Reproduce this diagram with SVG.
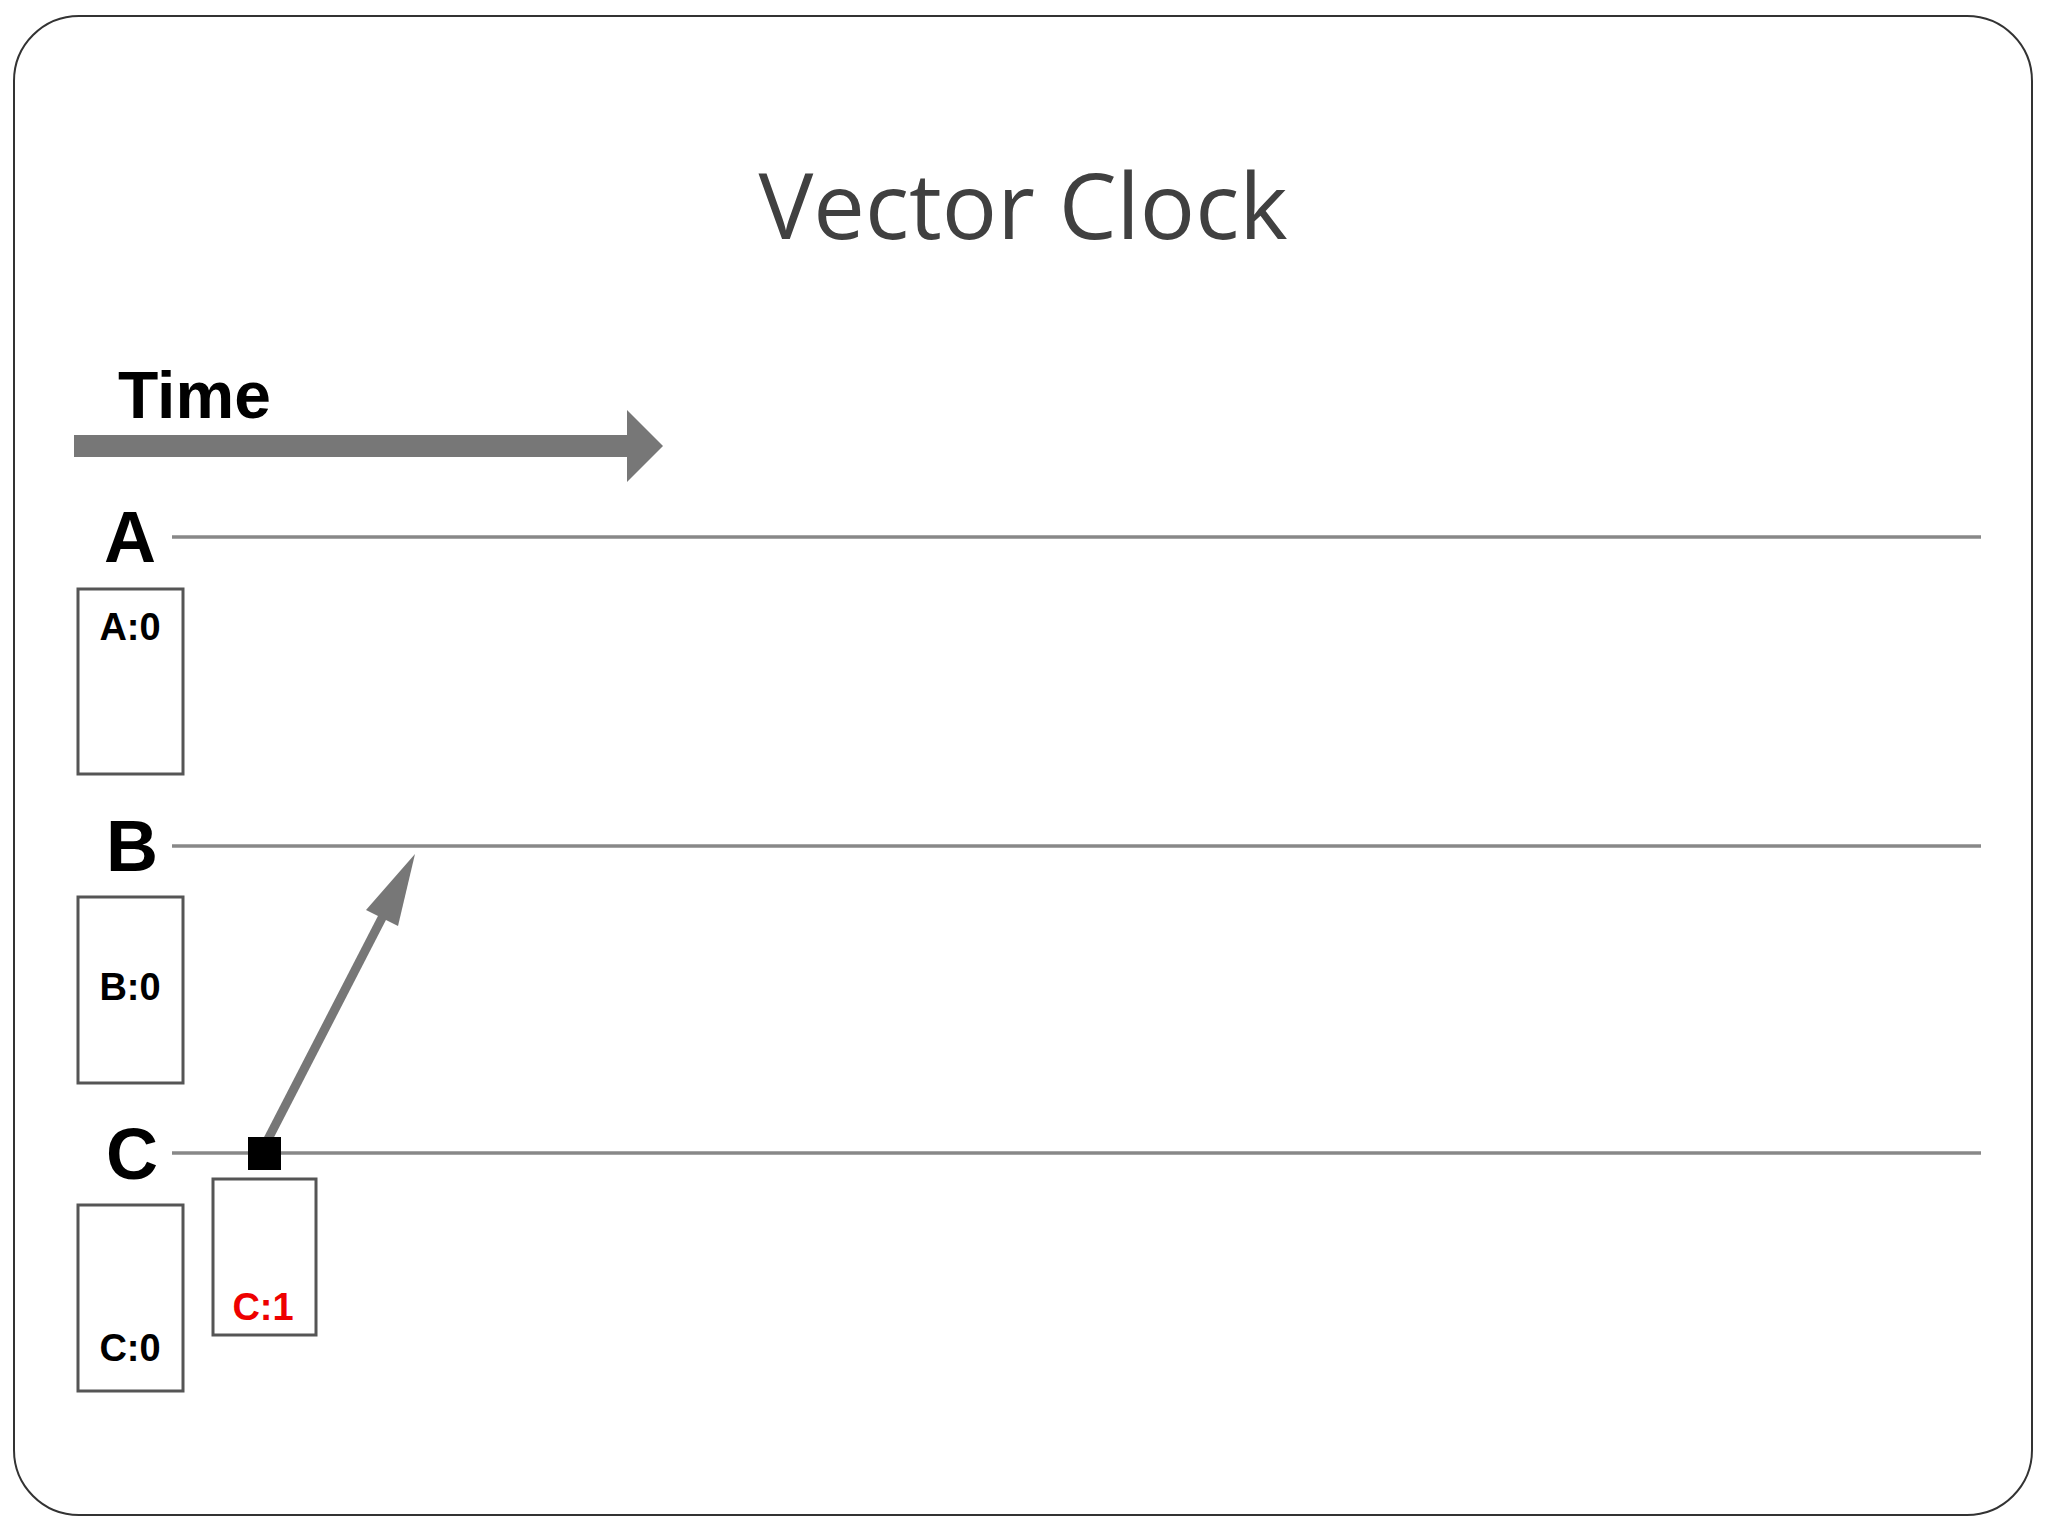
<svg xmlns="http://www.w3.org/2000/svg" width="2048" height="1536" viewBox="0 0 2048 1536">
<style>
.lbl{font-family:"Liberation Sans",Arial,sans-serif;font-weight:bold;fill:#000}
.box{fill:#fff;stroke:#555;stroke-width:3}
.line{stroke:#888;stroke-width:3.5}
</style>
<rect width="2048" height="1536" fill="#fff"/>
<rect x="14" y="16" width="2018" height="1499" rx="65" fill="#fff" stroke="#333" stroke-width="2"/>
<text x="1023" y="239" font-family="'Open Sans','Liberation Sans',sans-serif" font-size="92" fill="#404040" text-anchor="middle">Vector Clock</text>
<text x="118" y="418" class="lbl" font-size="66">Time</text>
<polygon points="74,435 627,435 627,410 663,446 627,482 627,457 74,457" fill="#777"/>
<g id="timelines">
<text x="104" y="562" class="lbl" font-size="72">A</text>
<text x="106" y="871" class="lbl" font-size="72">B</text>
<text x="106" y="1179" class="lbl" font-size="72">C</text>
</g>
<g id="connectors">
<line class="line" x1="172" y1="537" x2="1981" y2="537"/>
<line class="line" x1="172" y1="846" x2="1981" y2="846"/>
<line class="line" x1="172" y1="1153" x2="1981" y2="1153"/>
<line x1="265" y1="1145" x2="384" y2="914" stroke="#777" stroke-width="9"/>
<polygon points="415,854 398,926 366,910" fill="#777"/>
</g>
<g id="boxA"><rect class="box" x="78" y="589" width="105" height="185"/><text x="130" y="640" class="lbl" font-size="38" text-anchor="middle">A:0</text></g>
<g id="boxB"><rect class="box" x="78" y="897" width="105" height="186"/><text x="130" y="1000" class="lbl" font-size="38" text-anchor="middle">B:0</text></g>
<g id="boxC"><rect class="box" x="78" y="1205" width="105" height="186"/><text x="130" y="1361" class="lbl" font-size="38" text-anchor="middle">C:0</text></g>
<g id="boxC1"><rect class="box" x="213" y="1179" width="103" height="156"/><text x="263" y="1320" class="lbl" font-size="38" text-anchor="middle" style="fill:#e00">C:1</text></g>
<g id="event"><rect x="248" y="1137" width="33" height="33" fill="#000"/></g>
</svg>
